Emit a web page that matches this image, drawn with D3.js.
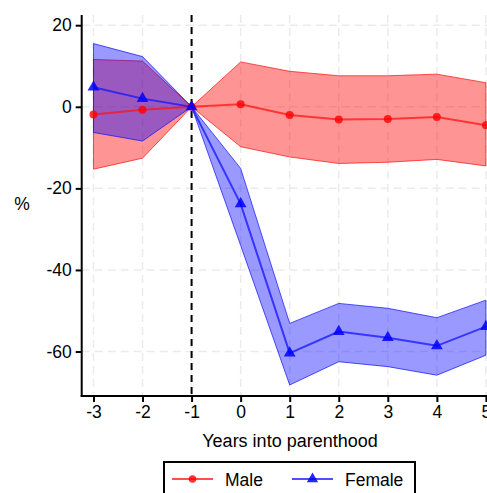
<!DOCTYPE html>
<html><head><meta charset="utf-8">
<script src="https://cdn.jsdelivr.net/npm/d3@7"></script>
<style>body{margin:0;background:#fff;} svg{display:block;font-family:"Liberation Sans",Arial,sans-serif;}</style>
</head><body>
<script>
const years = [-3,-2,-1,0,1,2,3,4,5];
const maleEst   = [-1.9,-0.7,0,0.6,-2.0,-3.1,-3.0,-2.5,-4.5];
const maleLo    = [-15.3,-12.6,0,-9.8,-12.3,-13.9,-13.6,-12.9,-14.5];
const maleHi    = [11.6,11.2,0,11.0,8.7,7.6,7.6,8.0,5.9];
const femaleEst = [4.8,2.0,0,-23.8,-60.4,-55.1,-56.6,-58.6,-53.9];
const femaleLo  = [-6.3,-8.4,0,-34.0,-68.2,-62.5,-63.7,-65.8,-60.9];
const femaleHi  = [15.5,12.3,0,-15.1,-53.1,-48.2,-49.4,-51.7,-47.4];
const yTicks = [20,0,-20,-40,-60];
const seriesNames = ["Male","Female"];

const W=487,H=493;
const svg=d3.select("body").append("svg").attr("width",W).attr("height",H);
const x=d3.scaleLinear().domain([-3.24,5.24]).range([81.7,497.7]);
const y=d3.scaleLinear().domain([-70.9,22.5]).range([396,15]);

// grid
const g=svg.append("g");
g.selectAll(".hg").data(yTicks).enter().append("line")
 .attr("x1",x(-3.24)).attr("x2",W).attr("y1",d=>y(d)).attr("y2",d=>y(d))
 .attr("stroke","#ebebeb").attr("stroke-width",1.5).attr("stroke-dasharray","8,5");
g.selectAll(".vg").data(years).enter().append("line")
 .attr("x1",d=>x(d)).attr("x2",d=>x(d)).attr("y1",y(22.5)).attr("y2",y(-70.9))
 .attr("stroke","#ebebeb").attr("stroke-width",1.5).attr("stroke-dasharray","8,5");

const series=[
 {name:"Male",est:maleEst,lo:maleLo,hi:maleHi,fill:"rgba(255,0,0,0.42)",stroke:"rgba(255,0,0,0.65)",line:"rgba(255,20,20,0.75)",mark:"rgba(255,0,0,0.8)",sym:d3.symbolCircle},
 {name:"Female",est:femaleEst,lo:femaleLo,hi:femaleHi,fill:"rgba(0,0,255,0.4)",stroke:"rgba(0,0,255,0.65)",line:"rgba(20,20,255,0.75)",mark:"rgba(0,0,255,0.85)",sym:d3.symbolTriangle}
];
const area=d3.area().x(d=>x(d.x)).y0(d=>y(d.lo)).y1(d=>y(d.hi));
const line=d3.line().x(d=>x(d.x)).y(d=>y(d.v));
series.forEach(s=>{
 const pts=years.map((yr,i)=>({x:yr,lo:s.lo[i],hi:s.hi[i]}));
 svg.append("path").attr("d",area(pts)).attr("fill",s.fill).attr("stroke",s.stroke).attr("stroke-width",1);
});
// reference line
svg.append("line").attr("x1",x(-1)).attr("x2",x(-1)).attr("y1",y(22.5)).attr("y2",y(-70.9))
 .attr("stroke","#000").attr("stroke-width",2).attr("stroke-dasharray","7,5");
series.forEach(s=>{
 const pts=years.map((yr,i)=>({x:yr,v:s.est[i]}));
 svg.append("path").attr("d",line(pts)).attr("fill","none").attr("stroke",s.line).attr("stroke-width",2);
 svg.selectAll(null).data(pts).enter().append("path")
  .attr("d",d3.symbol().type(s.sym).size(s.sym===d3.symbolCircle?50:60)())
  .attr("transform",d=>`translate(${x(d.x)},${y(d.v)})`).attr("fill",s.mark);
});

// axes
const fmt=d=>String(d);
const yAxis=svg.append("g").attr("transform",`translate(${x(-3.24)},0)`)
 .call(d3.axisLeft(y).tickValues(yTicks).tickSize(6).tickPadding(4).tickFormat(fmt));
const xAxis=svg.append("g").attr("transform",`translate(0,${y(-70.9)})`)
 .call(d3.axisBottom(x).tickValues(years).tickSize(6).tickPadding(4).tickFormat(fmt));
[yAxis,xAxis].forEach(a=>{
 a.selectAll(".tick line").attr("stroke","#000").attr("stroke-width",2);
 a.selectAll("text").attr("fill","#000").style("font-size","17.5px").style("font-family","'Liberation Sans',Arial,sans-serif");
 a.select(".domain").remove();
});
svg.append("line").attr("x1",x(-3.24)).attr("x2",x(-3.24)).attr("y1",y(22.5)).attr("y2",y(-70.9)+1).attr("stroke","#000").attr("stroke-width",2);
svg.append("line").attr("x1",x(-3.24)-1).attr("x2",W).attr("y1",y(-70.9)).attr("y2",y(-70.9)).attr("stroke","#000").attr("stroke-width",2);

svg.append("text").attr("x",22).attr("y",210).attr("text-anchor","middle").style("font-size","17.5px").text("%");
svg.append("text").attr("x",290).attr("y",447).attr("text-anchor","middle").style("font-size","18px").text("Years into parenthood");

// legend
const lg=svg.append("g");
lg.append("rect").attr("x",164).attr("y",462).attr("width",251).attr("height",40).attr("fill","#fff").attr("stroke","#000").attr("stroke-width",2);
const legX=[172,292];
series.forEach((s,i)=>{
 const lx=legX[i];
 lg.append("line").attr("x1",lx).attr("x2",lx+41).attr("y1",479).attr("y2",479).attr("stroke",s.line).attr("stroke-width",2);
 lg.append("path").attr("d",d3.symbol().type(s.sym).size(s.sym===d3.symbolCircle?45:55)()).attr("transform",`translate(${lx+20.5},479)`).attr("fill",s.mark);
 lg.append("text").attr("x",lx+53).attr("y",485.5).style("font-size","17.5px").text(seriesNames[i]);
});
</script>
</body></html>
